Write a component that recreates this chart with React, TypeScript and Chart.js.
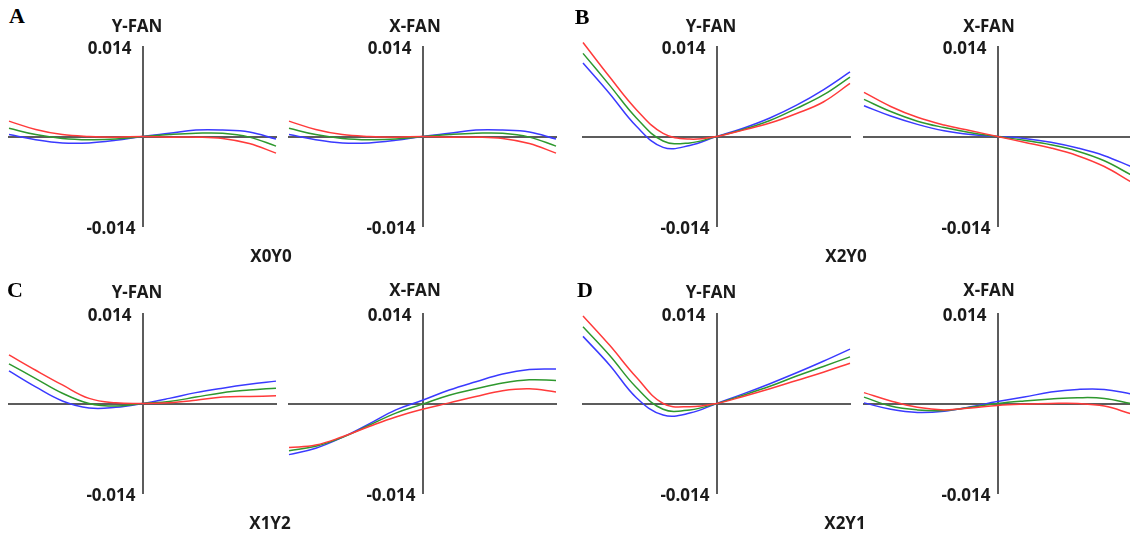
import React, { useEffect, useRef } from "react";
import { Chart, registerables } from "chart.js";

Chart.register(...registerables);

// normalized pupil coordinate
const pupil = [-1, -0.8, -0.6, -0.4, -0.2, 0, 0.2, 0.4, 0.6, 0.8, 1];

const yTickValues = [-0.014, 0.014];
const yTickLabels = ["-0.014", "0.014"];

const seriesNames = ["656nm", "587nm", "486nm"];
const seriesColors = ["#ff3a3a", "#2e982e", "#3a3aff"];

// A : X0Y0
const x0y0YFanRed = [0.0024, 0.0011, 0.0003, 0.0, -0.0001, 0, -0.0001, -0.0001, -0.0003, -0.0011, -0.0026];
const x0y0YFanGreen = [0.0013, 0.0003, -0.0003, -0.0005, -0.0004, 0, 0.0003, 0.0005, 0.0005, -0.0001, -0.0015];
const x0y0YFanBlue = [0.0003, -0.0005, -0.001, -0.001, -0.0006, 0, 0.0005, 0.001, 0.001, 0.0007, -0.0004];
const x0y0XFanRed = [0.0024, 0.0011, 0.0003, 0.0, -0.0001, 0, -0.0001, -0.0001, -0.0003, -0.0011, -0.0026];
const x0y0XFanGreen = [0.0013, 0.0003, -0.0003, -0.0005, -0.0004, 0, 0.0003, 0.0005, 0.0005, -0.0001, -0.0015];
const x0y0XFanBlue = [0.0003, -0.0005, -0.001, -0.001, -0.0006, 0, 0.0005, 0.001, 0.001, 0.0007, -0.0004];

// B : X2Y0
const x2y0YFanRed = [0.0147, 0.0093, 0.0042, 0.0005, -0.0004, 0, 0.001, 0.0021, 0.0036, 0.0054, 0.0083];
const x2y0YFanGreen = [0.013, 0.008, 0.0029, -0.0007, -0.001, 0, 0.0011, 0.0025, 0.0044, 0.0065, 0.0093];
const x2y0YFanBlue = [0.0115, 0.0067, 0.0016, -0.0017, -0.0014, 0, 0.0013, 0.0029, 0.0049, 0.0073, 0.0101];
const x2y0XFanRed = [0.0069, 0.0047, 0.003, 0.0018, 0.0009, 0, -0.0009, -0.0018, -0.003, -0.0047, -0.0071];
const x2y0XFanGreen = [0.0058, 0.0039, 0.0024, 0.0014, 0.0006, 0, -0.0006, -0.0013, -0.0023, -0.0038, -0.006];
const x2y0XFanBlue = [0.0048, 0.0032, 0.0019, 0.0009, 0.0003, 0, -0.0003, -0.0009, -0.0018, -0.003, -0.0047];

// C : X1Y2
const x1y2YFanRed = [0.0076, 0.0052, 0.0029, 0.0008, 0.0001, 0, 0.0001, 0.0005, 0.001, 0.0011, 0.0012];
const x1y2YFanGreen = [0.0062, 0.0039, 0.0016, 0.0, -0.0004, 0, 0.0003, 0.001, 0.0017, 0.0021, 0.0024];
const x1y2YFanBlue = [0.0051, 0.0026, 0.0004, -0.0007, -0.0006, 0, 0.0008, 0.0017, 0.0024, 0.003, 0.0035];
const x1y2XFanRed = [-0.0069, -0.0065, -0.0052, -0.0036, -0.0021, -0.0009, 0.0001, 0.0011, 0.002, 0.0023, 0.0018];
const x1y2XFanGreen = [-0.0074, -0.0067, -0.0053, -0.0034, -0.0015, -0.0001, 0.0013, 0.0023, 0.0032, 0.0037, 0.0036];
const x1y2XFanBlue = [-0.008, -0.007, -0.0053, -0.0032, -0.001, 0.0005, 0.0021, 0.0034, 0.0046, 0.0053, 0.0054];

// D : X2Y1
const x2y1YFanRed = [0.0137, 0.0091, 0.0041, 0.0, -0.0005, 0, 0.0011, 0.0023, 0.0036, 0.0049, 0.0063];
const x2y1YFanGreen = [0.012, 0.0075, 0.0025, -0.0009, -0.001, 0, 0.0013, 0.0027, 0.0043, 0.0058, 0.0073];
const x2y1YFanBlue = [0.0105, 0.006, 0.0009, -0.0018, -0.0015, 0, 0.0015, 0.0031, 0.0048, 0.0066, 0.0085];
const x2y1XFanRed = [0.0017, 0.0004, -0.0006, -0.001, -0.0007, -0.0003, -0.0001, 0.0, 0.0, -0.0004, -0.0016];
const x2y1XFanGreen = [0.001, -0.0004, -0.001, -0.0011, -0.0006, 0, 0.0004, 0.0007, 0.0009, 0.0008, 0.0];
const x2y1XFanBlue = [0.0001, -0.0009, -0.0014, -0.0012, -0.0005, 0.0003, 0.001, 0.0018, 0.0022, 0.0022, 0.0015];

const panelLetters = ["A", "B", "C", "D"];
const fieldLabels = ["X0Y0", "X2Y0", "X1Y2", "X2Y1"];
const fanTitles = ["Y-FAN", "X-FAN"];

const fanSeries = [
  [
    [x0y0YFanRed, x0y0YFanGreen, x0y0YFanBlue],
    [x0y0XFanRed, x0y0XFanGreen, x0y0XFanBlue],
  ],
  [
    [x2y0YFanRed, x2y0YFanGreen, x2y0YFanBlue],
    [x2y0XFanRed, x2y0XFanGreen, x2y0XFanBlue],
  ],
  [
    [x1y2YFanRed, x1y2YFanGreen, x1y2YFanBlue],
    [x1y2XFanRed, x1y2XFanGreen, x1y2XFanBlue],
  ],
  [
    [x2y1YFanRed, x2y1YFanGreen, x2y1YFanBlue],
    [x2y1XFanRed, x2y1XFanGreen, x2y1XFanBlue],
  ],
];

// layout (pixels)
const PLOT_W = 267;
const PLOT_H = 179;
const PAD = { l: 6, r: 6, t: 18, b: 18 };
const colLefts = [9, 289, 583, 864];
const rowTops = [47, 314];
const titleCenters = [
  [[137, 25], [415, 25]],
  [[711, 25], [989, 25]],
  [[137, 291], [415, 289]],
  [[711, 291], [989, 289]],
];
const fieldCenters = [[271, 255], [846, 255], [270, 522], [845, 522]];
const letterCenters = [[17, 16], [582, 17], [15, 290], [585, 290]];
const tickGaps = [7, 11];
const tickShifts = [3.5, 2];

const SANS = '"Noto Sans", "Open Sans", sans-serif';
const AXIS_COLOR = "#5c5c5c";

const fanTickLabels = {
  id: "fanTickLabels",
  afterDraw(chart: any) {
    const { ctx, scales } = chart;
    const xs = scales.x;
    const ys = scales.y;
    const ax = xs.getPixelForValue(0);
    ctx.save();
    ctx.font = `bold 17px ${SANS}`;
    ctx.fillStyle = "#1a1a1a";
    ctx.textAlign = "right";
    ctx.textBaseline = "middle";
    yTickValues.forEach((v, i) => {
      ctx.fillText(yTickLabels[i], ax - tickGaps[i], ys.getPixelForValue(v) + tickShifts[i]);
    });
    ctx.restore();
  },
};

function FanPlot({ left, top, series }: { left: number; top: number; series: number[][] }) {
  const ref = useRef<HTMLCanvasElement | null>(null);
  useEffect(() => {
    if (!ref.current) return;
    const chart = new Chart(ref.current, {
      type: "line",
      data: {
        datasets: series.map((vals, si) => ({
          label: seriesNames[si],
          data: pupil.map((x, i) => ({ x, y: vals[i] })),
          borderColor: seriesColors[si],
          backgroundColor: seriesColors[si],
          borderWidth: 1.5,
          pointRadius: 0,
          fill: false,
          tension: 0.4,
          clip: false,
        })),
      },
      options: {
        animation: false,
        responsive: false,
        maintainAspectRatio: false,
        events: [],
        layout: { padding: { left: PAD.l, right: PAD.r, top: PAD.t, bottom: PAD.b } },
        plugins: { legend: { display: false }, tooltip: { enabled: false }, title: { display: false } },
        scales: {
          x: {
            type: "linear",
            min: -1,
            max: 1,
            position: { y: 0 },
            grid: { display: false, drawTicks: false },
            ticks: { display: false },
            border: { display: true, color: AXIS_COLOR, width: 2 },
          },
          y: {
            type: "linear",
            min: -0.014,
            max: 0.014,
            position: { x: 0 },
            grid: { display: false, drawTicks: false },
            ticks: { display: false },
            border: { display: true, color: AXIS_COLOR, width: 2 },
            afterBuildTicks: (scale: any) => {
              scale.ticks = yTickValues.map((v) => ({ value: v }));
            },
          },
        },
      } as any,
      plugins: [fanTickLabels],
    });
    return () => chart.destroy();
  }, [series]);
  const w = PLOT_W + PAD.l + PAD.r;
  const h = PLOT_H + PAD.t + PAD.b;
  return (
    <canvas
      ref={ref}
      width={w}
      height={h}
      style={{ position: "absolute", left: left - PAD.l, top: top - PAD.t, width: w, height: h }}
    />
  );
}

function Label({ text, cx, cy, font }: { text: string; cx: number; cy: number; font: React.CSSProperties }) {
  return (
    <div
      style={{
        position: "absolute",
        left: cx,
        top: cy,
        transform: "translate(-50%, -50%)",
        whiteSpace: "nowrap",
        lineHeight: 1,
        color: "#1a1a1a",
        ...font,
      }}
    >
      {text}
    </div>
  );
}

export default function App() {
  const titleFont: React.CSSProperties = { fontFamily: SANS, fontWeight: 700, fontSize: 17 };
  const letterFont: React.CSSProperties = {
    fontFamily: '"Liberation Serif", "Times New Roman", serif',
    fontWeight: 700,
    fontSize: 22,
    color: "#000",
  };
  return (
    <div
      style={{
        position: "absolute",
        left: 0,
        top: 0,
        width: 1130,
        height: 535,
        overflow: "hidden",
        background: "#fff",
      }}
    >
      {fanSeries.map((panel, p) =>
        panel.map((series, f) => (
          <FanPlot
            key={`${p}-${f}`}
            left={colLefts[(p % 2) * 2 + f]}
            top={rowTops[Math.floor(p / 2)]}
            series={series}
          />
        ))
      )}
      {fanSeries.map((panel, p) =>
        panel.map((_s, f) => (
          <Label
            key={`t${p}-${f}`}
            text={fanTitles[f]}
            cx={titleCenters[p][f][0]}
            cy={titleCenters[p][f][1]}
            font={titleFont}
          />
        ))
      )}
      {fieldLabels.map((t, p) => (
        <Label key={`f${p}`} text={t} cx={fieldCenters[p][0]} cy={fieldCenters[p][1]} font={titleFont} />
      ))}
      {panelLetters.map((t, p) => (
        <Label key={`l${p}`} text={t} cx={letterCenters[p][0]} cy={letterCenters[p][1]} font={letterFont} />
      ))}
    </div>
  );
}
